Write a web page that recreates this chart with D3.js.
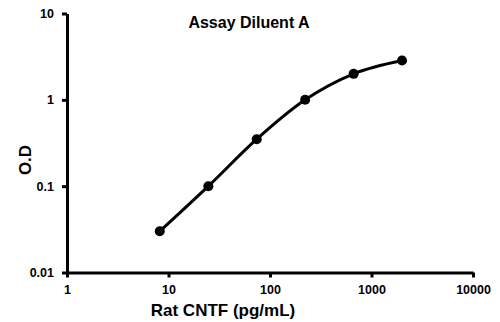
<!DOCTYPE html>
<html>
<head>
<meta charset="utf-8">
<script src="https://cdn.jsdelivr.net/npm/d3@7"></script>
<style>
  body { margin: 0; background: #fff; }
  text { font-family: "Liberation Sans", Arial, sans-serif; font-weight: bold; }
</style>
</head>
<body>
<div id="chart"></div>
<script>
// data
var concentrations = [8.2, 24.7, 74, 222, 667, 2000];
var odValues = [0.03, 0.1, 0.35, 1.0, 2.0, 2.85];
var xTicks = [1, 10, 100, 1000, 10000];
var yTicks = [0.01, 0.1, 1, 10];

var margin = {top: 13.5, right: 27, bottom: 49.5, left: 67},
    width = 500 - margin.left - margin.right,
    height = 322 - margin.top - margin.bottom;

var svg = d3.select("#chart")
  .append("svg")
    .attr("width", 500)
    .attr("height", 322)
  .append("g")
    .attr("transform", "translate(" + margin.left + "," + margin.top + ")");

var x = d3.scaleLog().domain([1, 10000]).range([0, width]);
var y = d3.scaleLog().domain([0.01, 10]).range([height, 0]);

// X axis
var xAxis = svg.append("g")
  .attr("transform", "translate(0," + height + ")")
  .call(d3.axisBottom(x).tickValues(xTicks).tickFormat(d3.format("d")).tickSize(5).tickSizeOuter(0));
xAxis.select(".domain").attr("stroke-width", 3).attr("stroke", "#000");
xAxis.selectAll(".tick line").attr("stroke-width", 3);
xAxis.selectAll(".tick text").attr("font-size", 12.5).attr("dy", "1.05em").attr("fill", "#000");

// Y axis
var yAxis = svg.append("g")
  .call(d3.axisLeft(y).tickValues(yTicks).tickFormat(function(d) { return d >= 1 ? d3.format("d")(d) : String(d); }).tickSize(5).tickSizeOuter(0));
yAxis.select(".domain").attr("stroke-width", 3).attr("stroke", "#000");
yAxis.selectAll(".tick line").attr("stroke-width", 3);
yAxis.selectAll(".tick text").attr("font-size", 12.5).attr("dx", "-0.4em").attr("fill", "#000");

var data = concentrations.map(function(c, i) { return {x: c, y: odValues[i]}; });

// curve
var line = d3.line()
  .x(function(d) { return x(d.x); })
  .y(function(d) { return y(d.y); })
  .curve(d3.curveMonotoneX);

svg.append("path")
  .datum(data)
  .attr("fill", "none")
  .attr("stroke", "#000")
  .attr("stroke-width", 3)
  .attr("d", line);

svg.selectAll("circle")
  .data(data)
  .enter()
  .append("circle")
    .attr("cx", function(d) { return x(d.x); })
    .attr("cy", function(d) { return y(d.y); })
    .attr("r", 5)
    .attr("fill", "#000");

// title
svg.append("text")
  .attr("x", 249 - margin.left)
  .attr("y", 28 - margin.top)
  .attr("text-anchor", "middle")
  .attr("font-size", 16)
  .text("Assay Diluent A");

// axis labels
svg.append("text")
  .attr("x", 223 - margin.left)
  .attr("y", 316 - margin.top)
  .attr("text-anchor", "middle")
  .attr("font-size", 17)
  .text("Rat CNTF (pg/mL)");

svg.append("text")
  .attr("transform", "translate(" + (31 - margin.left) + "," + (160 - margin.top) + ")rotate(-90)")
  .attr("text-anchor", "middle")
  .attr("font-size", 17)
  .text("O.D");
</script>
</body>
</html>
